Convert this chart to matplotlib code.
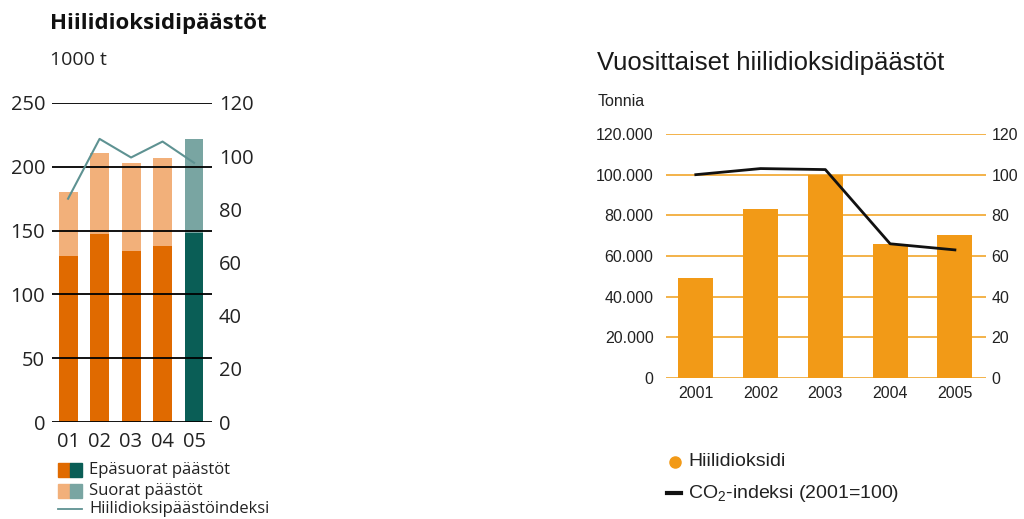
import matplotlib
matplotlib.use("Agg")
import matplotlib.pyplot as plt
from matplotlib.patches import Rectangle
from matplotlib.lines import Line2D
from matplotlib.ticker import FuncFormatter

# ---- Left chart data (1000 t) ----
left_years = ["01", "02", "03", "04", "05"]
indirect = [130, 147, 134, 138, 148]          # Epäsuorat päästöt
total = [180, 211, 203, 207, 222]              # Epäsuorat + Suorat
direct = [t - i for t, i in zip(total, indirect)]  # Suorat päästöt
index_left = [84, 106.5, 99.5, 105.5, 97.5]    # Hiilidioksipäästöindeksi
left_yticks = [0, 50, 100, 150, 200, 250]
left_rticks = [0, 20, 40, 60, 80, 100, 120]

# ---- Right chart data (tonnia) ----
right_years = ["2001", "2002", "2003", "2004", "2005"]
co2_tonnes = [49000, 83000, 100000, 66000, 70500]
co2_index = [100, 103, 102.5, 66, 63]
right_yticks = [0, 20000, 40000, 60000, 80000, 100000, 120000]
right_rticks = [0, 20, 40, 60, 80, 100, 120]

W, H = 1024, 519
fig = plt.figure(figsize=(W / 100, H / 100), dpi=100)
fig.patch.set_facecolor("white")
plt.rcParams["mathtext.fontset"] = "custom"
plt.rcParams["mathtext.rm"] = "Liberation Sans"

LF = "Open Sans"
RF = "Liberation Sans"
txt = "#222222"

dark_orange = "#E06A00"
light_orange = "#F2B07A"
dark_teal = "#0A5E56"
light_teal = "#79A5A2"
line_teal = "#5E9292"

# ================= Left chart =================
axL = fig.add_axes([52 / W, 1 - 422 / H, 160 / W, 319 / H])
x = list(range(len(left_years)))
c_low = [dark_orange] * 4 + [dark_teal]
c_high = [light_orange] * 4 + [light_teal]
axL.bar(x, indirect, width=0.6, color=c_low, zorder=1)
axL.bar(x, direct, bottom=indirect, width=0.6, color=c_high, zorder=1)
axL.set_xlim(-0.51, 4.57)
axL.set_ylim(0, 250)
axL.set_yticks(left_yticks)
axL.set_xticks(x)
axL.set_xticklabels(left_years)
for y in left_yticks:
    axL.axhline(y, color="black", lw=1.3, zorder=3)
for s in axL.spines.values():
    s.set_visible(False)
axL.tick_params(axis="y", length=0, pad=5, labelsize=14.5, labelcolor=txt)
axL.tick_params(axis="x", length=0, pad=7, labelsize=14.5, labelcolor=txt)
for lab in axL.get_xticklabels() + axL.get_yticklabels():
    lab.set_fontfamily(LF)

axL2 = axL.twinx()
axL2.set_ylim(0, 120)
axL2.set_yticks(left_rticks)
axL2.plot(x, index_left, color=line_teal, lw=1.5, zorder=5)
for s in axL2.spines.values():
    s.set_visible(False)
axL2.tick_params(axis="y", length=0, pad=5, labelsize=14.5, labelcolor=txt)
for lab in axL2.get_yticklabels():
    lab.set_fontfamily(LF)

fig.text(50 / W, 1 - 23 / H, "Hiilidioksidipäästöt", fontsize=16, fontweight="bold",
         family=LF, color="#111111", va="center", ha="left")
fig.text(50 / W, 1 - 60 / H, "1000 t", fontsize=14, family=LF, color=txt,
         va="center", ha="left")

# legend (left)
leg_rows = [("Epäsuorat päästöt", dark_orange, dark_teal, 470),
            ("Suorat päästöt", light_orange, light_teal, 491)]
for label, ca, cb, yc in leg_rows:
    fig.patches.append(Rectangle((58 / W, 1 - (yc + 7) / H), 12 / W, 14 / H,
                                 transform=fig.transFigure, color=ca))
    fig.patches.append(Rectangle((70 / W, 1 - (yc + 7) / H), 12 / W, 14 / H,
                                 transform=fig.transFigure, color=cb))
    fig.text(89 / W, 1 - yc / H, label, fontsize=12, family=LF, color=txt,
             va="center", ha="left")
fig.lines.append(Line2D([58 / W, 82 / W], [1 - 509 / H, 1 - 509 / H],
                        transform=fig.transFigure, color=line_teal, lw=1.3))
fig.text(89 / W, 1 - 509 / H, "Hiilidioksipäästöindeksi", fontsize=12, family=LF,
         color=txt, va="center", ha="left")

# ================= Right chart =================
bar_orange = "#F29A17"
grid_orange = "#F3B24A"
axR = fig.add_axes([666 / W, 1 - 378 / H, 320 / W, 244 / H])
xr = list(range(len(right_years)))
axR.bar(xr, co2_tonnes, width=0.54, color=bar_orange, zorder=2)
axR.set_xlim(-0.46, 4.48)
axR.set_ylim(0, 120000)
axR.set_yticks(right_yticks)
axR.yaxis.set_major_formatter(FuncFormatter(lambda v, p: f"{int(v):,}".replace(",", ".")))
axR.set_xticks(xr)
axR.set_xticklabels(right_years)
for y in right_yticks:
    axR.axhline(y, color=grid_orange, lw=1.4, zorder=1)
for s in axR.spines.values():
    s.set_visible(False)
axR.tick_params(axis="y", length=0, pad=9, labelsize=11.5, labelcolor=txt)
axR.tick_params(axis="x", length=0, pad=6, labelsize=11.5, labelcolor=txt)
for lab in axR.get_xticklabels() + axR.get_yticklabels():
    lab.set_fontfamily(RF)

axR2 = axR.twinx()
axR2.set_ylim(0, 120)
axR2.set_yticks(right_rticks)
axR2.plot(xr, co2_index, color="#111111", lw=2, zorder=5)
for s in axR2.spines.values():
    s.set_visible(False)
axR2.tick_params(axis="y", length=0, pad=4, labelsize=11.5, labelcolor=txt)
for lab in axR2.get_yticklabels():
    lab.set_fontfamily(RF)

fig.text(597 / W, 1 - 63 / H, "Vuosittaiset hiilidioksidipäästöt", fontsize=18.5,
         family=RF, color="#1a1a1a", va="center", ha="left")
fig.text(598 / W, 1 - 101 / H, "Tonnia", fontsize=11.5, family=RF, color=txt,
         va="center", ha="left")

# legend (right)
fig.lines.append(Line2D([675 / W], [1 - 462 / H], transform=fig.transFigure,
                        marker="o", markersize=8, color=bar_orange, lw=0))
fig.text(688 / W, 1 - 462 / H, "Hiilidioksidi", fontsize=14, family=RF, color=txt,
         va="center", ha="left")
fig.lines.append(Line2D([667 / W, 681 / W], [1 - 493 / H, 1 - 493 / H],
                        transform=fig.transFigure, color="#111111", lw=3))
fig.text(688 / W, 1 - 493 / H, r"CO$_\mathrm{2}$-indeksi (2001=100)", fontsize=14,
         family=RF, color=txt, va="center", ha="left")

fig.savefig("out.png", dpi=100)
